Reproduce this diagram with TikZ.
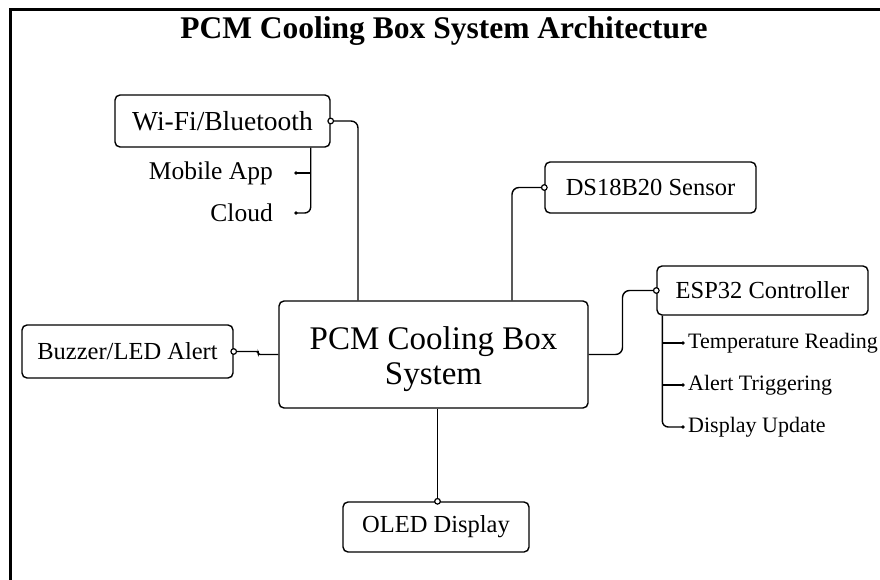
\documentclass[tikz,border=0pt]{standalone}
\usepackage{fontspec}
\setmainfont{Liberation Serif}
\usetikzlibrary{calc}
\begin{document}
\begin{tikzpicture}[x=1pt,y=-1pt,
  box/.style={draw,line width=1.4pt,rounded corners=5pt,inner sep=0pt,align=center,
    font=\fontsize{24.5}{28}\selectfont},
  conn/.style={line width=1.4pt,rounded corners=7pt},
  lbl/.style={inner sep=2pt,font=\fontsize{25.5}{28}\selectfont},
  slbl/.style={inner sep=2pt,font=\fontsize{22}{24}\selectfont},
  ring/.style={draw,line width=1.2pt,fill=white},
  dotf/.style={fill=black}]
\useasboundingbox (0,0) rectangle (880,580);
\fill[white] (0,0) rectangle (880,580);
% frame
\draw[line width=3pt] (10,580) -- (10,10) -- (880,10);
% title
\node (title) at (444,31) {\fontsize{31.5}{34}\selectfont\bfseries PCM Cooling Box System Architecture};
% boxes
\node[box,minimum width=215pt,minimum height=52pt,font=\fontsize{27.5}{30}\selectfont] (wifi) at (222.5,121) {Wi-Fi/Bluetooth};
\node[box,minimum width=211pt,minimum height=51pt] (ds) at (650.5,187.5) {DS18B20 Sensor};
\node[box,minimum width=211pt,minimum height=49pt] (esp) at (762.5,290.5) {ESP32 Controller};
\node[box,minimum width=309pt,minimum height=107pt] (main) at (433.5,354.5) {};
\node[align=center,inner sep=0pt,font=\fontsize{33}{35}\selectfont] (maintext) at ([yshift=-5pt]main.center) {PCM Cooling Box\\System};
\node[box,minimum width=211pt,minimum height=53pt] (buzz) at (127.5,351.5) {Buzzer/LED Alert};
\node[box,minimum width=186pt,minimum height=50pt] (oled) at (436,527) {OLED Display};
% labels
\node[lbl,anchor=east] (mob) at (275,173) {Mobile App};
\node[lbl,anchor=east] (cloud) at (275,213) {Cloud};
\node[slbl,anchor=west] (temp) at (686,343) {Temperature Reading};
\node[slbl,anchor=west] (alert) at (686,385) {Alert Triggering};
\node[slbl,anchor=west] (disp) at (686,427) {Display Update};
% main connectors
\draw[conn] (wifi.east) -| ([xshift=-75.5pt]main.north);
\draw[conn] (ds.west) -| ([xshift=78.5pt]main.north);
\draw[conn] (main.east) -| ($(main.east)!.5!(esp.west)$) |- (esp.west);
\draw[conn,rounded corners=2pt] (buzz.east) -| ($(buzz.east)!.55!(main.west)$) |- (main.west);
\draw[conn] ([xshift=4pt]main.south) -- ([xshift=4pt]main.south |- oled.north);
% rings
\draw[ring] (wifi.east) circle (2.8pt);
\draw[ring] (ds.west) circle (2.8pt);
\draw[ring] (esp.west) circle (2.8pt);
\draw[ring] (buzz.east) circle (2.8pt);
\draw[ring] ([xshift=4pt]main.south |- oled.north) circle (2.8pt);
% wifi branch
\coordinate (wb) at ([xshift=-20pt]wifi.south east);
\draw[conn,rounded corners=6pt] (wb) |- ([xshift=21pt]cloud.east);
\draw[conn] (wb |- mob.east) -- ([xshift=21pt]mob.east);
\fill[dotf] ([xshift=21pt]cloud.east) circle (1.8pt);
\fill[dotf] ([xshift=21pt]mob.east) circle (1.8pt);
% esp branch
\coordinate (eb) at ([xshift=6pt]esp.south west);
\draw[conn,rounded corners=6pt] (eb) |- ([xshift=-3pt]disp.west);
\draw[conn] (eb |- temp.west) -- ([xshift=-3pt]temp.west);
\draw[conn] (eb |- alert.west) -- ([xshift=-3pt]alert.west);
\fill[dotf] ([xshift=-3pt]temp.west) circle (1.8pt);
\fill[dotf] ([xshift=-3pt]alert.west) circle (1.8pt);
\fill[dotf] ([xshift=-3pt]disp.west) circle (1.8pt);
\end{tikzpicture}
\end{document}
